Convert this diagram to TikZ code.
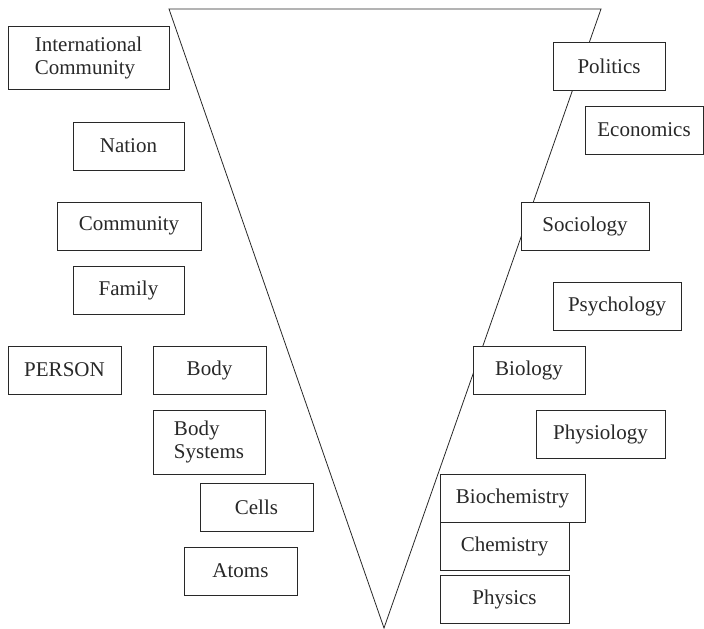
\documentclass[tikz,border=0pt]{standalone}
\usepackage{fontspec}
\setmainfont{Liberation Serif}
\usepackage{xcolor}
\definecolor{boxline}{RGB}{40, 40, 40}

\begin{document}
\begin{tikzpicture}[x=1pt, y=-1pt,
    level/.style={draw=boxline, line width=0.9pt, fill=white, inner sep=0pt,
        minimum height=48pt, minimum width=113pt,
        font=\fontsize{21}{23}\selectfont, text=boxline}]
        \useasboundingbox (0,0) rectangle (704,629);
        % 逆三角形
        \coordinate (tl) at (169,9);
        \coordinate (tr) at (601,9);
        \coordinate (apex) at (384,628);
        \draw[line width=0.8pt, boxline] (tl) -- (tr) -- (apex) -- cycle;
        % 左側：階層
        \node[level, minimum width=161pt, minimum height=63pt, align=left] (intl) at (88.5,57.5) {International\\Community};
        \node[level, minimum width=111pt] (nation) at (128.5,146) {Nation};
        \node[level, minimum width=144pt] (community) at (129,226) {Community};
        \node[level, minimum width=111pt] (family) at (128.5,290) {Family};
        \node[level] (person) at (64.5,370) {PERSON};
        \node[level] (body) at (209.5,370) {\raisebox{3pt}{Body}};
        \node[level, minimum width=112pt, minimum height=64pt, align=left] (bodysys) at (209,442) {Body\\Systems\hspace{12pt}};
        \node[level] (cells) at (256.5,507) {Cells};
        \node[level] (atoms) at (240.5,571) {Atoms};
        % 右側：学問
        \node[level, minimum width=112pt] (politics) at (609,66) {Politics};
        \node[level, minimum width=118pt] (economics) at (644,130) {Economics};
        \node[level, minimum width=128pt] (sociology) at (585,226) {Sociology};
        \node[level, minimum width=128pt] (psychology) at (617,306) {Psychology};
        \node[level, minimum width=112pt] (biology) at (529,370) {Biology};
        \node[level, minimum width=129pt] (physiology) at (600.5,434) {Physiology};
        \node[level, minimum width=145pt] (biochemistry) at (512.5,498) {Biochemistry};
        \node[level, minimum width=129pt] (chemistry) at (504.5,546) {Chemistry};
        \node[level, minimum width=129pt] (physics) at (504.5,599) {Physics};
    \end{tikzpicture}
\end{document}
